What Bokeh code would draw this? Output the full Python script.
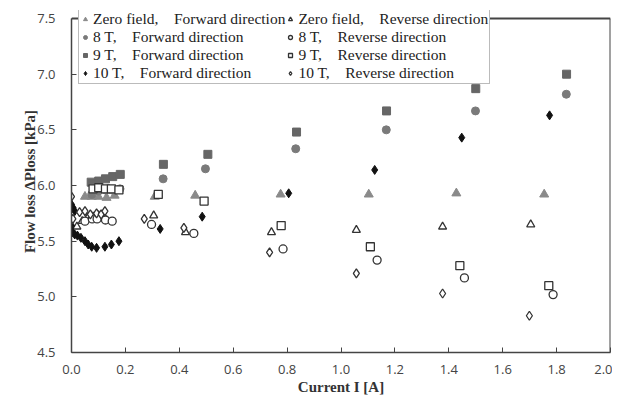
from bokeh.plotting import figure
from bokeh.models import Legend, LegendItem, FixedTicker, PrintfTickFormatter, Range1d
from bokeh.embed import file_html
from bokeh.resources import INLINE

# ---- data ----
zero_fwd_x = [0.05, 0.075, 0.10, 0.13, 0.16, 0.309, 0.459, 0.776, 1.103, 1.428, 1.754]
zero_fwd_y = [5.90, 5.90, 5.90, 5.89, 5.91, 5.90, 5.91, 5.92, 5.92, 5.93, 5.92]

zero_rev_x = [0.02, 0.04, 0.06, 0.08, 0.10, 0.12, 0.305, 0.423, 0.742, 1.057, 1.377, 1.704]
zero_rev_y = [5.63, 5.68, 5.71, 5.72, 5.73, 5.72, 5.73, 5.58, 5.58, 5.60, 5.63, 5.65]

t8_fwd_x = [0.075, 0.10, 0.125, 0.15, 0.18, 0.340, 0.497, 0.832, 1.168, 1.499, 1.836]
t8_fwd_y = [5.92, 5.95, 5.96, 5.96, 5.97, 6.06, 6.15, 6.33, 6.50, 6.67, 6.82]

t8_rev_x = [0.05, 0.077, 0.095, 0.126, 0.151, 0.297, 0.454, 0.785, 1.134, 1.458, 1.787]
t8_rev_y = [5.68, 5.70, 5.70, 5.69, 5.68, 5.65, 5.57, 5.43, 5.33, 5.17, 5.02]

t9_fwd_x = [0.073, 0.101, 0.126, 0.153, 0.181, 0.341, 0.506, 0.835, 1.169, 1.500, 1.837]
t9_fwd_y = [6.03, 6.04, 6.06, 6.08, 6.10, 6.19, 6.28, 6.48, 6.67, 6.87, 7.00]

t9_rev_x = [0.08, 0.101, 0.126, 0.148, 0.176, 0.322, 0.492, 0.778, 1.109, 1.441, 1.771]
t9_rev_y = [5.97, 5.98, 5.97, 5.97, 5.96, 5.92, 5.86, 5.64, 5.45, 5.28, 5.10]

t10_fwd_x = [0.0, 0.006, 0.012, 0.0, 0.0, 0.004, 0.012, 0.022, 0.035, 0.05, 0.062,
             0.075, 0.093, 0.124, 0.148, 0.176, 0.329, 0.485, 0.806, 1.125, 1.448, 1.774]
t10_fwd_y = [5.83, 5.80, 5.77, 5.70, 5.64, 5.58, 5.56, 5.55, 5.53, 5.50, 5.47,
             5.45, 5.44, 5.45, 5.47, 5.50, 5.61, 5.72, 5.93, 6.14, 6.43, 6.63]

t10_rev_x = [0.0, 0.005, 0.03, 0.05, 0.07, 0.093, 0.11, 0.124, 0.27, 0.417, 0.735, 1.057, 1.377, 1.699]
t10_rev_y = [5.90, 5.70, 5.76, 5.77, 5.74, 5.75, 5.74, 5.77, 5.70, 5.62, 5.40, 5.21, 5.03, 4.83]

x_ticks = [0.0, 0.2, 0.4, 0.6, 0.8, 1.0, 1.2, 1.4, 1.6, 1.8, 2.0]
y_ticks = [4.5, 5.0, 5.5, 6.0, 6.5, 7.0, 7.5]
x_min, x_max = 0.0, 2.0
y_min, y_max = 4.5, 7.5
y_headroom = 0.072  # room above 7.5 where the legend box pokes out

p = figure(width=612, height=400, output_backend="svg", toolbar_location=None,
           x_range=Range1d(x_min, x_max), y_range=Range1d(y_min, y_max + y_headroom),
           min_border_left=71, min_border_right=2, min_border_top=10, min_border_bottom=48)
p.background_fill_color = "white"
p.border_fill_color = "white"
p.outline_line_color = None
p.xgrid.visible = False
p.ygrid.visible = False

for ax in (p.xaxis[0], p.yaxis[0]):
    ax.axis_line_color = "#444444"
    ax.axis_line_width = 1.5
    ax.major_tick_in = 5
    ax.major_tick_out = 0
    ax.major_tick_line_color = "#444444"
    ax.minor_tick_line_color = None
    ax.major_label_text_font = "Open Sans"
    ax.major_label_text_font_size = "13px"
    ax.major_label_text_color = "#444444"
    ax.axis_label_text_font = "Liberation Serif"
    ax.axis_label_text_font_style = "bold"
    ax.axis_label_text_font_size = "15px"
    ax.axis_label_text_color = "#333333"
    ax.formatter = PrintfTickFormatter(format="%.1f")

p.yaxis[0].bounds = (y_min, y_max)
p.xaxis[0].ticker = FixedTicker(ticks=x_ticks)
p.yaxis[0].ticker = FixedTicker(ticks=y_ticks)
p.xaxis[0].axis_label = "Current I [A]"
p.yaxis[0].axis_label = "Flow loss \u0394Ploss [kPa]"
p.xaxis[0].major_label_standoff = 12
p.xaxis[0].axis_label_standoff = 2
p.yaxis[0].major_label_standoff = 16
p.yaxis[0].axis_label_standoff = -4

# box top and right edges (frame outline at the axis limits)
p.segment(x0=[x_min, x_max], y0=[y_max, y_min], x1=[x_max, x_max], y1=[y_max, y_max],
          line_color="#444444", line_width=2)

sz = 8
r_zf = p.scatter(zero_fwd_x, zero_fwd_y, marker="triangle", size=sz + 1, fill_color="#8a8a8a", line_color="#8a8a8a")
r_zr = p.scatter(zero_rev_x, zero_rev_y, marker="triangle", size=sz, fill_color="white", line_color="#333333", line_width=1.3)
r_8f = p.scatter(t8_fwd_x, t8_fwd_y, marker="circle", size=sz, fill_color="#7a7a7a", line_color="#7a7a7a")
r_8r = p.scatter(t8_rev_x, t8_rev_y, marker="circle", size=sz, fill_color="white", line_color="#333333", line_width=1.3)
r_9f = p.scatter(t9_fwd_x, t9_fwd_y, marker="square", size=sz, fill_color="#666666", line_color="#666666")
r_9r = p.scatter(t9_rev_x, t9_rev_y, marker="square", size=sz, fill_color="white", line_color="#333333", line_width=1.3)
r_10f = p.scatter(t10_fwd_x, t10_fwd_y, marker="diamond", size=sz + 1, fill_color="#111111", line_color="#111111")
r_10r = p.scatter(t10_rev_x, t10_rev_y, marker="diamond", size=sz + 1, fill_color="white", line_color="#333333", line_width=1.3)

gap = "    "
items = [
    LegendItem(label="Zero field," + gap + "Forward direction", renderers=[r_zf]),
    LegendItem(label="8 T," + gap + "Forward direction", renderers=[r_8f]),
    LegendItem(label="9 T," + gap + "Forward direction", renderers=[r_9f]),
    LegendItem(label="10 T," + gap + "Forward direction", renderers=[r_10f]),
    LegendItem(label="Zero field," + gap + "Reverse direction", renderers=[r_zr]),
    LegendItem(label="8 T," + gap + "Reverse direction", renderers=[r_8r]),
    LegendItem(label="9 T," + gap + "Reverse direction", renderers=[r_9r]),
    LegendItem(label="10 T," + gap + "Reverse direction", renderers=[r_10r]),
]
legend = Legend(items=items, location=(7, 268), nrows=4, orientation="vertical",
                label_text_font="Liberation Serif", label_text_font_size="15.5px",
                label_text_color="#222222", label_height=10, glyph_height=10, glyph_width=10,
                label_standoff=3, spacing=-3, padding=1, margin=0,
                border_line_color="#777777", border_line_width=1,
                background_fill_color="white", background_fill_alpha=1.0)
p.add_layout(legend, "center")

open("out.html", "w").write(file_html(p, INLINE))
